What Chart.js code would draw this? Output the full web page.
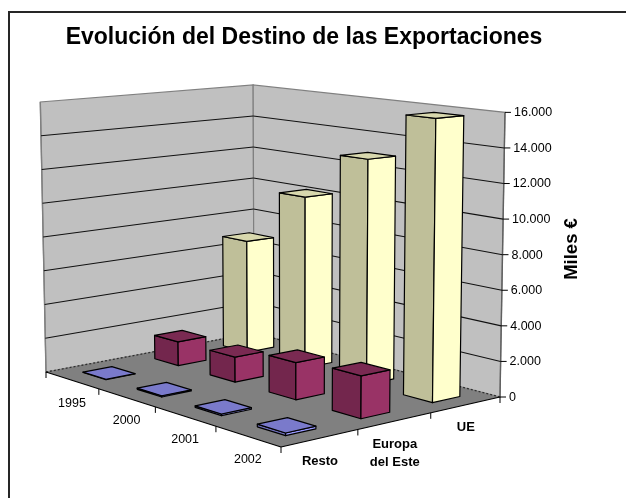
<!DOCTYPE html>
<html>
<head>
<meta charset="utf-8">
<style>html,body{margin:0;padding:0;background:#fff}canvas{display:block}</style>
<script src="https://cdn.jsdelivr.net/npm/chart.js@4/dist/chart.umd.js"></script>
</head>
<body>
<canvas id="c" width="626" height="498"></canvas>
<script>
// ---- data ----
const titleText = 'Evolución del Destino de las Exportaciones';
const axisTitle = 'Miles €';
const years = ['1995', '2000', '2001', '2002'];
const seriesNames = ['Resto', 'Europa del Este', 'UE'];
const seriesLabelLines = [['Resto'], ['Europa', 'del Este'], ['UE']];
const resto = [20, 70, 90, 140];
const europa = [1430, 1450, 2080, 2310];
const ue = [6850, 10200, 13000, 15800];
const yMax = 16000;
const yStep = 2000;

// ---- styles ----
const FONT = '"Liberation Sans", Arial, sans-serif';
const faceColors = {
  Resto: { side: '#6f6fbb', front: '#9999ff', top: '#7a7acb' },
  'Europa del Este': { side: '#73264d', front: '#993366', top: '#7a2a52' },
  UE: { side: '#bfbf99', front: '#ffffcc', top: '#d8d8ad' }
};

// ---- 3D view: floor corners on screen (u along years, v along series) ----
const cornerA = [46, 372], cornerB = [281, 447], cornerC = [500, 397], cornerD = [254, 333];
const wallHeightA = 270, wallHeightB = 314, wallHeightD = 248;
const leanLeft = -0.0211, leanRight = 0.0175;
const halfU = 0.054, halfV = 0.066;

const floorMap = (() => {
  const [x0, y0] = cornerA, [x1, y1] = cornerB, [x2, y2] = cornerC, [x3, y3] = cornerD;
  const dx1 = x1 - x2, dx2 = x3 - x2, sx = x0 - x1 + x2 - x3;
  const dy1 = y1 - y2, dy2 = y3 - y2, sy = y0 - y1 + y2 - y3;
  const den = dx1 * dy2 - dx2 * dy1;
  const g = (sx * dy2 - dx2 * sy) / den, h = (dx1 * sy - sx * dy1) / den;
  return { a: x1 - x0 + g * x1, b: x3 - x0 + h * x3, c: x0, d: y1 - y0 + g * y1, e: y3 - y0 + h * y3, f: y0, g, h };
})();

function project(u, v, w) {
  const m = floorMap;
  const q = m.g * u + m.h * v + 1;
  const fx = (m.a * u + m.b * v + m.c) / q;
  const fy = (m.d * u + m.e * v + m.f) / q;
  const inv = 1 / wallHeightA + u * (1 / wallHeightB - 1 / wallHeightA) + v * (1 / wallHeightD - 1 / wallHeightA);
  const height = 1 / inv;
  const lean = leanLeft + (fx - cornerA[0]) / (cornerC[0] - cornerA[0]) * (leanRight - leanLeft);
  return [fx + w * height * lean, fy - w * height];
}

function poly(ctx, pts, fill, stroke, lw) {
  ctx.beginPath();
  pts.forEach((p, i) => i ? ctx.lineTo(p[0], p[1]) : ctx.moveTo(p[0], p[1]));
  ctx.closePath();
  if (fill) { ctx.fillStyle = fill; ctx.fill(); }
  if (stroke) { ctx.strokeStyle = stroke; ctx.lineWidth = lw || 1; ctx.stroke(); }
}
function seg(ctx, p, q, color, lw, dash) {
  ctx.save();
  ctx.beginPath();
  ctx.setLineDash(dash || []);
  ctx.moveTo(p[0], p[1]); ctx.lineTo(q[0], q[1]);
  ctx.strokeStyle = color; ctx.lineWidth = lw; ctx.stroke();
  ctx.restore();
}
const norm = (scale, idx) => (scale.getPixelForValue(idx) - scale.left) / scale.width;
const heightOf = (y, val) => (y.bottom - y.getPixelForValue(val)) / y.height;

// ---- bars: cuboids whose footprint and height come from the chart's scales ----
class Bar3D extends Chart.BarController {
  draw() {
    const chart = this.chart, ctx = chart.ctx;
    const { x, z, y } = chart.scales;
    const values = this.getDataset().data;
    const colors = faceColors[this.getDataset().label];
    const vc = norm(z, this.index);
    ctx.save();
    ctx.lineJoin = 'round';
    values.forEach((val, i) => {
      const uc = norm(x, i), w = heightOf(y, val);
      const u0 = uc - halfU, u1 = uc + halfU, v0 = vc - halfV, v1 = vc + halfV;
      const left0 = project(u0, v0, 0), front0 = project(u1, v0, 0), right0 = project(u1, v1, 0);
      const left1 = project(u0, v0, w), front1 = project(u1, v0, w), right1 = project(u1, v1, w), back1 = project(u0, v1, w);
      poly(ctx, [left0, front0, front1, left1], colors.side, '#000', 1.2);
      poly(ctx, [front0, right0, right1, front1], colors.front, '#000', 1.2);
      poly(ctx, [left1, front1, right1, back1], colors.top, '#000', 1.2);
    });
    ctx.restore();
  }
}
Bar3D.id = 'bar3d';
Bar3D.defaults = Chart.BarController.defaults;
Chart.register(Bar3D);

// ---- walls, floor, axes and their text ----
const scene = {
  id: 'scene',
  beforeDraw(chart) {
    const ctx = chart.ctx;
    ctx.save();
    ctx.fillStyle = '#fff';
    ctx.fillRect(0, 0, chart.width, chart.height);
    ctx.fillStyle = '#262626';
    ctx.fillRect(8, 11, chart.width - 8, 2);
    ctx.fillRect(8, 11, 2, chart.height - 11);
    ctx.restore();
  },
  beforeDatasetsDraw(chart) {
    const ctx = chart.ctx;
    const { x, z, y } = chart.scales;
    ctx.save();
    const A = w => project(0, 0, w), D = w => project(0, 1, w), C = w => project(1, 1, w), B = w => project(1, 0, w);
    // walls
    poly(ctx, [A(0), D(0), D(1), A(1)], '#c0c0c0', '#808080', 1.2);
    poly(ctx, [D(0), C(0), C(1), D(1)], '#c0c0c0', '#808080', 1.2);
    seg(ctx, C(0), C(1), '#606060', 1.4);
    seg(ctx, A(0), A(1), '#808080', 1.4);
    // gridlines
    y.ticks.forEach(t => {
      if (t.value === 0 || t.value === yMax) return;
      const w = heightOf(y, t.value);
      seg(ctx, A(w), D(w), '#111', 1.1);
      seg(ctx, D(w), C(w), '#111', 1.1);
    });
    // floor
    poly(ctx, [A(0), B(0), C(0), D(0)], '#808080');
    seg(ctx, A(0), D(0), '#303030', 1.3, [2, 2]);
    seg(ctx, D(0), C(0), '#303030', 1.3, [2, 2]);
    seg(ctx, A(0), B(0), '#000', 1.2);
    seg(ctx, B(0), C(0), '#000', 1.2);
    // floor ticks
    for (let i = 0; i <= years.length; i++) {
      const p = project(i / years.length, 0, 0);
      seg(ctx, p, [p[0], p[1] + 6], '#000', 1);
    }
    for (let j = 1; j <= seriesNames.length; j++) {
      const p = project(1, j / seriesNames.length, 0);
      seg(ctx, p, [p[0], p[1] + 6], '#000', 1);
    }
    // value axis ticks and labels, following the leaning right edge
    ctx.fillStyle = '#000';
    ctx.textBaseline = 'middle';
    ctx.textAlign = 'left';
    ctx.font = '12.5px ' + FONT;
    y.ticks.forEach(t => {
      const p = project(1, 1, heightOf(y, t.value));
      seg(ctx, p, [p[0] + 6, p[1]], '#000', 1);
      ctx.fillText(t.label, p[0] + 9, p[1] + 0.5);
    });
    // year labels
    ctx.textAlign = 'center';
    years.forEach((lab, i) => {
      const p = project(norm(x, i), 0, 0);
      ctx.fillText(lab, p[0], p[1] + 23);
    });
    // series labels
    ctx.font = 'bold 13px ' + FONT;
    seriesLabelLines.forEach((lines, j) => {
      const p = project(1, norm(z, j), 0);
      lines.forEach((line, k) => ctx.fillText(line, p[0], p[1] + 23 + k * 18.5));
    });
    // value axis title
    ctx.save();
    ctx.translate(571.5, 249);
    ctx.rotate(-Math.PI / 2);
    ctx.font = 'bold 18.5px ' + FONT;
    ctx.fillText(axisTitle, 0, 0);
    ctx.restore();
    ctx.restore();
  }
};

new Chart(document.getElementById('c'), {
  type: 'bar3d',
  plugins: [scene],
  data: {
    labels: years,
    datasets: [
      { label: seriesNames[0], data: resto, xAxisID: 'x', yAxisID: 'y', clip: false, backgroundColor: faceColors.Resto.front },
      { label: seriesNames[1], data: europa, xAxisID: 'x', yAxisID: 'y', clip: false, backgroundColor: faceColors['Europa del Este'].front },
      { label: seriesNames[2], data: ue, xAxisID: 'x', yAxisID: 'y', clip: false, backgroundColor: faceColors.UE.front }
    ]
  },
  options: {
    responsive: false,
    animation: false,
    devicePixelRatio: 1,
    layout: { padding: { left: 0, right: 18, top: 0, bottom: 101 } },
    plugins: {
      legend: { display: false },
      tooltip: { enabled: false },
      title: {
        display: true,
        text: titleText,
        color: '#000',
        font: { family: FONT, size: 23, weight: 'bold', lineHeight: 1.2 },
        padding: { top: 24, bottom: 60.4 }
      }
    },
    scales: {
      x: { type: 'category', labels: years, offset: true, display: false },
      z: { type: 'category', axis: 'x', labels: seriesNames, offset: true, display: false },
      y: {
        type: 'linear', position: 'right', min: 0, max: yMax, display: false,
        ticks: { stepSize: yStep, callback: v => String(v).replace(/\B(?=(\d{3})+$)/g, '.') }
      }
    }
  }
});
</script>
</body>
</html>
